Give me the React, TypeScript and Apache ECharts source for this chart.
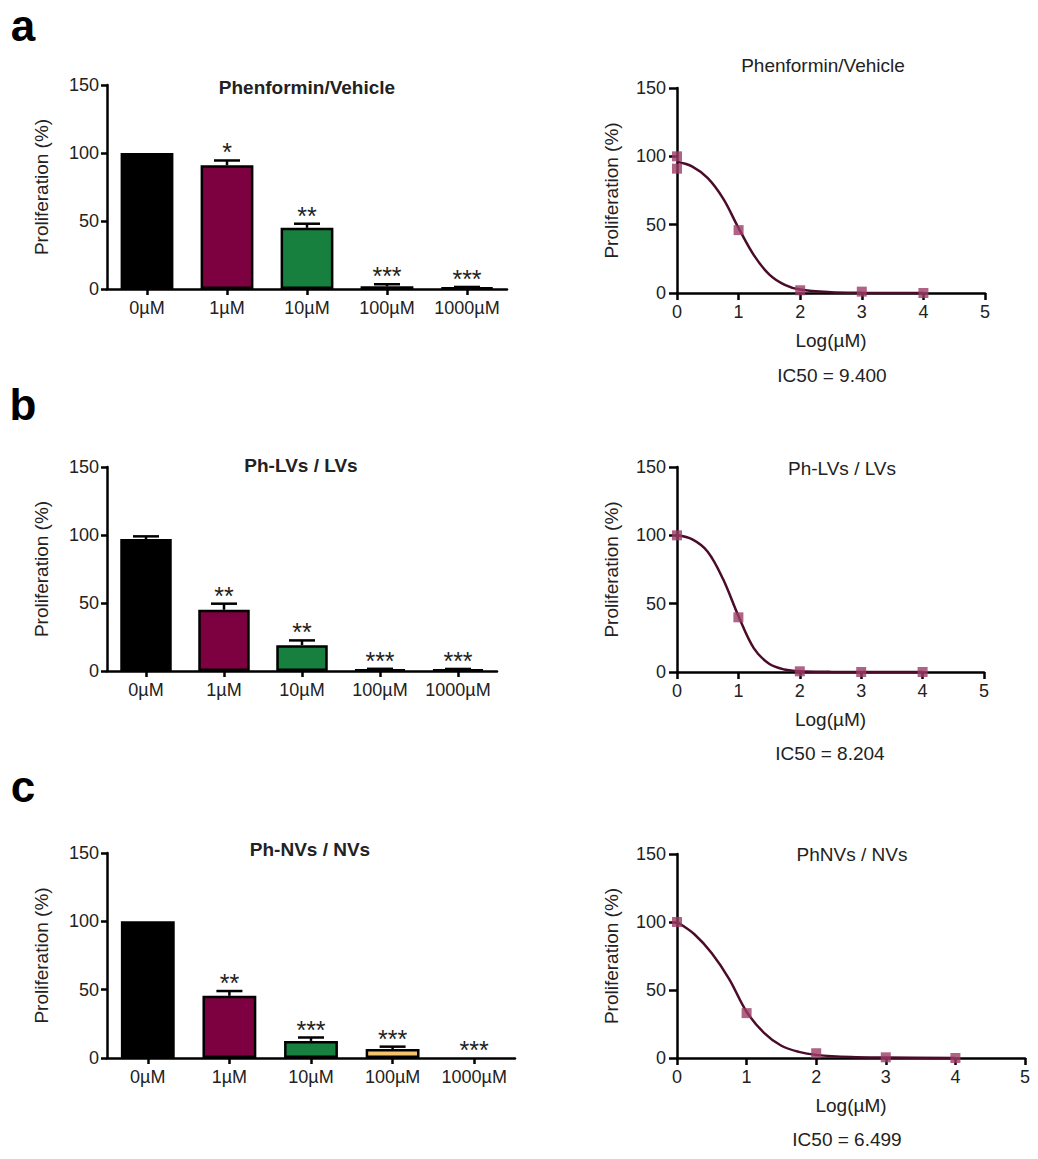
import React, { useEffect, useRef } from "react";
import * as echarts from "echarts";

// ---------- data ----------
const CATEGORIES = ["0µM", "1µM", "10µM", "100µM", "1000µM"];

const A_BAR = [100, 91, 45, 2, 1];
const A_ERR = [0, 3.5, 3, 1.5, 0.5];
const A_STARS = ["", "*", "**", "***", "***"];

const B_BAR = [97, 45, 19, 1, 1];
const B_ERR = [2, 4.5, 3.5, 0.6, 0.5];
const B_STARS = ["", "**", "**", "***", "***"];

const C_BAR = [100, 45.5, 12.5, 6.5, 0];
const C_ERR = [0, 3.5, 2.5, 1.8, 0];
const C_STARS = ["", "**", "***", "***", "***"];

const BAR_COLORS_AB = ["#000000", "#7d0040", "#17803f", "#000000", "#2d4a7c"];
const BAR_COLORS_C = ["#000000", "#7d0040", "#17803f", "#f6c46c", "#2d4a7c"];

// dose-response curves (log µM)
const FIT_X = [0, 0.25, 0.5, 0.75, 1, 1.25, 1.5, 1.75, 2, 2.5, 3, 4];
const A_FIT = [96, 92.5, 84, 69, 47.5, 27.5, 13.5, 6, 2.5, 0.6, 0.2, 0];
const B_FIT = [100, 97, 88, 68, 41, 17.5, 6, 1.8, 0.5, 0.1, 0, 0];
const C_FIT = [100, 91, 77, 58, 34, 18.5, 9, 4.5, 2.3, 0.7, 0.3, 0];

const A_PTS_X = [0, 0, 1, 2, 3, 4];
const A_PTS_Y = [100, 91, 46, 2, 1, 0];
const B_PTS_X = [0, 1, 2, 3, 4];
const B_PTS_Y = [100, 40, 0.5, 0, 0];
const C_PTS_X = [0, 1, 2, 3, 4];
const C_PTS_Y = [100, 33, 3.5, 0.5, 0];

const BAR_TITLES = ["Phenformin/Vehicle", "Ph-LVs / LVs", "Ph-NVs / NVs"];
const CURVE_TITLES = ["Phenformin/Vehicle", "Ph-LVs / LVs", "PhNVs / NVs"];
const IC50_LABELS = ["IC50 = 9.400", "IC50 = 8.204", "IC50 = 6.499"];
const PANEL_LETTERS = ["a", "b", "c"];
const Y_NAME = "Proliferation (%)";
const X_CURVE_NAME = "Log(µM)";

// ---------- layout ----------
const FONT = "Liberation Sans, Arial, Helvetica, sans-serif";
const BAR_GRIDS = [
  { left: 107, top: 85, width: 400, height: 204 },
  { left: 107, top: 467, width: 390, height: 204 },
  { left: 107, top: 853, width: 408, height: 205 },
];
const CURVE_GRIDS = [
  { left: 677, top: 88, width: 308, height: 205 },
  { left: 677, top: 467, width: 307, height: 205 },
  { left: 677, top: 854, width: 348, height: 204 },
];
const BAR_TITLE_POS = [[307, 87], [301, 465], [310, 849]];
const CURVE_TITLE_POS = [[823, 65], [842, 468], [852, 854]];
const IC50_POS = [[832, 375], [830, 753], [847, 1139]];
const LETTER_POS = [[23, 25], [23, 404], [23, 786]];

const LINE_COLOR = "#4a0c2a";
const MARK_COLOR = "#9c3c66";
const AXIS_W = 2.5;

function buildOption() {
  const grids: any[] = [];
  const xAxes: any[] = [];
  const yAxes: any[] = [];
  const series: any[] = [];
  const graphics: any[] = [];

  const bars = [
    { v: A_BAR, e: A_ERR, s: A_STARS, c: BAR_COLORS_AB },
    { v: B_BAR, e: B_ERR, s: B_STARS, c: BAR_COLORS_AB },
    { v: C_BAR, e: C_ERR, s: C_STARS, c: BAR_COLORS_C },
  ];
  const curves = [
    { fit: A_FIT, px: A_PTS_X, py: A_PTS_Y },
    { fit: B_FIT, px: B_PTS_X, py: B_PTS_Y },
    { fit: C_FIT, px: C_PTS_X, py: C_PTS_Y },
  ];

  const axisLine = { show: true, lineStyle: { color: "#000", width: AXIS_W } };
  const labelStyle = { color: "#222", fontSize: 18, fontFamily: FONT };

  for (let p = 0; p < 3; p++) {
    // bar chart
    const gi = grids.length;
    grids.push({ ...BAR_GRIDS[p], containLabel: false });
    xAxes.push({
      type: "category",
      gridIndex: gi,
      data: CATEGORIES,
      axisLine,
      axisTick: { show: true, alignWithLabel: true, interval: 0, length: 6, lineStyle: { width: AXIS_W, color: "#000" } },
      axisLabel: { ...labelStyle, margin: 10, interval: 0 },
      splitLine: { show: false },
    });
    yAxes.push({
      type: "value",
      gridIndex: gi,
      min: 0,
      max: 150,
      interval: 50,
      name: Y_NAME,
      nameLocation: "middle",
      nameGap: 56,
      nameRotate: 90,
      nameTextStyle: { color: "#222", fontSize: 19, fontFamily: FONT },
      axisLine,
      axisTick: { show: true, length: 6, lineStyle: { width: AXIS_W, color: "#000" } },
      axisLabel: { ...labelStyle, margin: 8 },
      splitLine: { show: false },
    });
    const b = bars[p];
    series.push({
      type: "bar",
      xAxisIndex: gi,
      yAxisIndex: gi,
      barWidth: "66%",
      data: b.v.map((val, i) => ({
        value: val,
        itemStyle: { color: b.c[i], borderColor: "#000", borderWidth: val > 0 ? 2.5 : 0 },
      })),
      z: 3,
    });
    series.push({
      type: "custom",
      xAxisIndex: gi,
      yAxisIndex: gi,
      z: 4,
      clip: false,
      data: b.v.map((val, i) => [i, val, b.e[i]]),
      renderItem: (params: any, api: any) => {
        const idx = api.value(0);
        const val = api.value(1);
        const err = api.value(2);
        const stars = b.s[params.dataIndex];
        const p0 = api.coord([idx, val]);
        const p1 = api.coord([idx, val + err]);
        const children: any[] = [];
        if (err > 0) {
          children.push({
            type: "line",
            shape: { x1: p0[0], y1: p0[1], x2: p1[0], y2: p1[1] },
            style: { stroke: "#000", lineWidth: 2.5 },
          });
          children.push({
            type: "line",
            shape: { x1: p1[0] - 13, y1: p1[1], x2: p1[0] + 13, y2: p1[1] },
            style: { stroke: "#000", lineWidth: 2.5 },
          });
        }
        if (stars) {
          children.push({
            type: "text",
            x: p1[0],
            y: p1[1] - 8,
            style: {
              text: stars,
              fontSize: 25,
              fontFamily: FONT,
              fill: "#222",
              align: "center",
              verticalAlign: "middle",
            },
          });
        }
        return { type: "group", children };
      },
    });

    // curve chart
    const ci = grids.length;
    grids.push({ ...CURVE_GRIDS[p], containLabel: false });
    xAxes.push({
      type: "value",
      gridIndex: ci,
      min: 0,
      max: 5,
      interval: 1,
      name: X_CURVE_NAME,
      nameLocation: "middle",
      nameGap: 38,
      nameTextStyle: { color: "#222", fontSize: 19, fontFamily: FONT },
      axisLine: { ...axisLine, onZero: false },
      axisTick: { show: true, length: 7, lineStyle: { width: AXIS_W, color: "#000" } },
      axisLabel: { ...labelStyle, margin: 10 },
      splitLine: { show: false },
    });
    yAxes.push({
      type: "value",
      gridIndex: ci,
      min: 0,
      max: 150,
      interval: 50,
      name: Y_NAME,
      nameLocation: "middle",
      nameGap: 56,
      nameRotate: 90,
      nameTextStyle: { color: "#222", fontSize: 19, fontFamily: FONT },
      axisLine: { ...axisLine, onZero: false },
      axisTick: { show: true, length: 8, lineStyle: { width: AXIS_W, color: "#000" } },
      axisLabel: { ...labelStyle, margin: 11 },
      splitLine: { show: false },
    });
    const c = curves[p];
    series.push({
      type: "line",
      xAxisIndex: ci,
      yAxisIndex: ci,
      data: FIT_X.map((x, i) => [x, c.fit[i]]),
      smooth: 0.35,
      showSymbol: false,
      symbol: "none",
      clip: false,
      lineStyle: { color: LINE_COLOR, width: 2.5 },
      z: 3,
    });
    series.push({
      type: "scatter",
      xAxisIndex: ci,
      yAxisIndex: ci,
      data: c.px.map((x, i) => [x, c.py[i]]),
      symbol: "rect",
      symbolSize: 10,
      clip: false,
      itemStyle: { color: MARK_COLOR },
      z: 4,
    });

    // texts
    graphics.push({
      type: "text",
      x: BAR_TITLE_POS[p][0],
      y: BAR_TITLE_POS[p][1],
      style: {
        text: BAR_TITLES[p],
        fontSize: 19,
        fontWeight: "bold",
        fontFamily: FONT,
        fill: "#222",
        align: "center",
        verticalAlign: "middle",
      },
    });
    graphics.push({
      type: "text",
      x: CURVE_TITLE_POS[p][0],
      y: CURVE_TITLE_POS[p][1],
      style: {
        text: CURVE_TITLES[p],
        fontSize: 19,
        fontFamily: FONT,
        fill: "#222",
        align: "center",
        verticalAlign: "middle",
      },
    });
    graphics.push({
      type: "text",
      x: IC50_POS[p][0],
      y: IC50_POS[p][1],
      style: {
        text: IC50_LABELS[p],
        fontSize: 19,
        fontFamily: FONT,
        fill: "#222",
        align: "center",
        verticalAlign: "middle",
      },
    });
    graphics.push({
      type: "text",
      x: LETTER_POS[p][0],
      y: LETTER_POS[p][1],
      style: {
        text: PANEL_LETTERS[p],
        fontSize: 44,
        fontWeight: "bold",
        fontFamily: FONT,
        fill: "#000",
        align: "center",
        verticalAlign: "middle",
      },
    });
  }

  return {
    animation: false,
    backgroundColor: "#ffffff",
    grid: grids,
    xAxis: xAxes,
    yAxis: yAxes,
    series,
    graphic: graphics,
  };
}

export default function App() {
  const ref = useRef<HTMLDivElement>(null);
  useEffect(() => {
    document.body.style.margin = "0";
    if (!ref.current) return;
    const chart = echarts.init(ref.current, undefined, { renderer: "svg" });
    chart.setOption(buildOption() as any);
    return () => chart.dispose();
  }, []);
  return <div ref={ref} style={{ width: 1038, height: 1159 }} />;
}
